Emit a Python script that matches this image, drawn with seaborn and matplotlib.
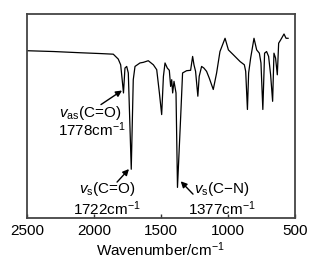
import numpy as np
import pandas as pd
import matplotlib
matplotlib.use("Agg")
import matplotlib.pyplot as plt
import seaborn as sns

wavenumber = [2500, 2300, 2100, 1950, 1856, 1819, 1801, 1790, 1780, 1769, 1756, 1744, 1722,
              1707, 1694, 1657, 1632, 1595, 1557, 1532, 1512, 1495, 1482, 1470, 1453, 1438,
              1428, 1420, 1413, 1403, 1388, 1377, 1353, 1339, 1309, 1279, 1264, 1254, 1242,
              1225, 1215, 1197, 1180, 1160, 1140, 1110, 1085, 1060, 1022, 997, 960, 910, 878,
              868, 855, 846, 831, 806, 786, 766, 754, 740, 727, 712, 697, 682, 667, 657, 645,
              632, 622, 607, 582, 567, 550]
transmittance = [82.0, 81.6, 81.0, 80.6, 80.3, 77.9, 75.1, 68.0, 61.3, 73.5, 74.3, 71.1, 23.9,
                 67.8, 74.3, 76.0, 76.3, 77.1, 75.1, 72.7, 61.3, 50.7, 69.4, 76.0, 73.5, 72.4,
                 64.5, 67.8, 61.3, 67.0, 61.3, 15.0, 49.9, 71.1, 72.2, 72.4, 79.2, 75.1, 71.9,
                 59.7, 69.4, 74.3, 73.5, 71.9, 68.6, 63.0, 71.1, 81.6, 88.1, 82.4, 80.0, 76.7, 75.1,
                 71.9, 53.2, 71.1, 78.4, 88.1, 82.4, 80.8, 76.0, 53.2, 80.8, 81.6, 79.2, 70.2, 57.2,
                 80.8, 78.4, 70.2, 85.7, 87.3, 90.2, 88.1, 88.1]

mode_labels = [r"$\mathit{v}_{\mathrm{as}}$(C=O)", r"$\mathit{v}_{\mathrm{s}}$(C=O)",
               r"$\mathit{v}_{\mathrm{s}}$(C$-$N)"]
freq_labels = [r"1778cm$^{-1}$", r"1722cm$^{-1}$", r"1377cm$^{-1}$"]

sns.set_style("white")
plt.rcParams['font.family'] = ['Liberation Sans', 'DejaVu Sans']
plt.rcParams['mathtext.fontset'] = 'custom'
plt.rcParams['mathtext.rm'] = 'Liberation Sans'
plt.rcParams['mathtext.it'] = 'Liberation Sans:italic'
plt.rcParams['text.color'] = 'black'
plt.rcParams['axes.labelcolor'] = 'black'
plt.rcParams['xtick.color'] = 'black'

df = pd.DataFrame({"wn": wavenumber, "T": transmittance})

fig = plt.figure(figsize=(3.34, 2.69), dpi=100)
ax = fig.add_axes([27/334, 1 - 218/269, 268/334, 204/269])
sns.lineplot(data=df, x="wn", y="T", ax=ax, color="black", linewidth=0.9, sort=False)
ax.set_xlim(2500, 500)
ax.set_ylim(0, 100)
ax.set_yticks([])
ax.set_xticks([2500, 2000, 1500, 1000, 500])
ax.tick_params(axis="x", direction="in", length=3, width=1, color="#333333",
               labelsize=11, pad=4, bottom=True)
ax.set_xlabel(r"Wavenumber/cm$^{-1}$", fontsize=11, labelpad=2)
ax.set_ylabel("")
for s in ax.spines.values():
    s.set_color("#444444")
    s.set_linewidth(1.3)

arrow = dict(arrowstyle="-|>", color="black", lw=1.0, mutation_scale=9, shrinkA=0, shrinkB=0)
# arrows
ax.annotate("", xy=(1791, 62.5), xytext=(1948, 55.6), arrowprops=arrow)
ax.annotate("", xy=(1739, 24.0), xytext=(1828, 17.6), arrowprops=arrow)
ax.annotate("", xy=(1353, 18.0), xytext=(1261, 11.7), arrowprops=arrow)
# labels
txt_pos = [(2030, 51.6, 2015, 43.2), (1905, 14.2, 1903, 4.8), (1045, 14.4, 1045, 4.8)]
for (x1, y1, x2, y2), m, f in zip(txt_pos, mode_labels, freq_labels):
    ax.text(x1, y1, m, ha="center", va="center", fontsize=11)
    ax.text(x2, y2, f, ha="center", va="center", fontsize=11)

fig.savefig("out.png", dpi=100)
